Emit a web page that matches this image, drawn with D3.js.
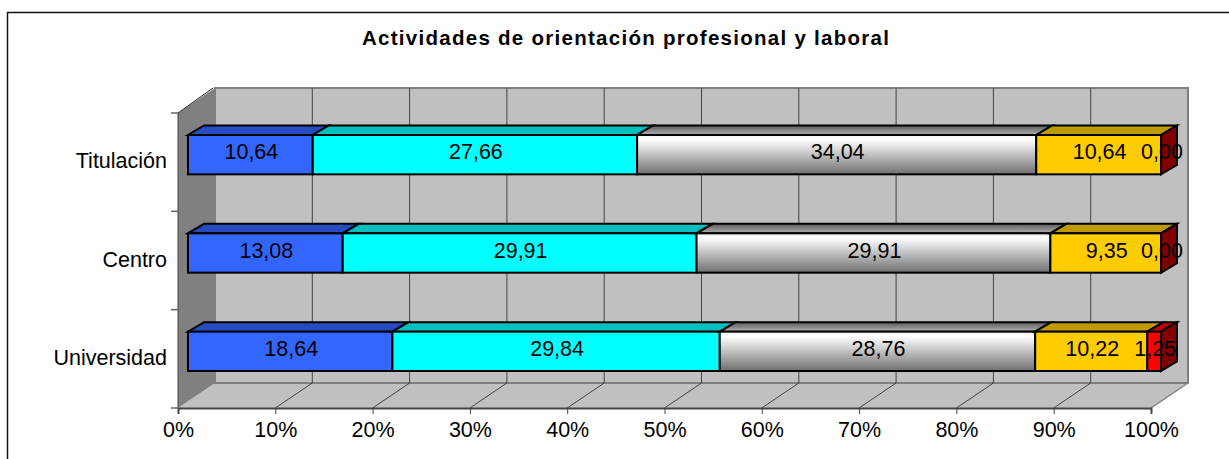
<!DOCTYPE html>
<html>
<head>
<meta charset="utf-8">
<script src="https://cdn.jsdelivr.net/npm/d3@7"></script>
<style>
  html, body { margin: 0; padding: 0; background: #fff; }
  svg { display: block; }
  text { font-family: "Liberation Sans", Arial, sans-serif; fill: #000; }
</style>
</head>
<body>
<svg id="chart" width="1229" height="459"></svg>
<script>
const categories = ["Universidad", "Centro", "Titulación"];
const serieA = [18.64, 13.08, 10.64];
const serieB = [29.84, 29.91, 27.66];
const serieC = [28.76, 29.91, 34.04];
const serieD = [10.22, 9.35, 10.64];
const serieE = [1.25, 0.00, 0.00];
const xTicks = [0, 0.1, 0.2, 0.3, 0.4, 0.5, 0.6, 0.7, 0.8, 0.9, 1];
const titleText = "Actividades de orientación profesional y laboral";

const allSeries = [serieA, serieB, serieC, serieD, serieE];
const keys = allSeries.map((_, i) => "s" + i);
const rows = categories.map((c, i) => {
    const row = { category: c };
    keys.forEach((k, j) => { row[k] = allSeries[j][i]; });
    return row;
});

// front, top and side faces for every series
const faceStyles = [
    { front: "#3366ff", top: "#264cbf" },
    { front: "#00ffff", top: "#00bfbf" },
    { front: "url(#silverFront)", top: "url(#silverTop)" },
    { front: "#ffcc00", top: "#bf9900" },
    { front: "#ff0000", top: "#bf0000", side: "#800000" }
];

const svg = d3.select("#chart");

// --- layout of the fake 3D box ---
const plot = { left: 178, right: 1151, top: 113, bottom: 408 };
const wall = { dx: 37, dy: -25 };    // back wall offset from front plane
const bar = { dx: 10, dy: -7.5, depthX: 16, depthY: -9.5, heightRatio: 0.4 };
const labelSize = 21.5;

const x = d3.scaleLinear().domain([0, 1]).range([plot.left, plot.right]);
const y = d3.scaleBand().domain(categories).range([plot.bottom, plot.top]);

const stacked = d3.stack().keys(keys).offset(d3.stackOffsetExpand)(rows);
const poly = pts => pts.map(p => p.join(",")).join(" ");
const commaFmt = v => d3.format(".2f")(v).replace(".", ",");

// gradients for the silver series
const defs = svg.append("defs");
function addGradient(id, stops) {
    const g = defs.append("linearGradient").attr("id", id)
        .attr("x1", 0).attr("y1", 0).attr("x2", 0).attr("y2", 1);
    stops.forEach(s => g.append("stop").attr("offset", s[0]).attr("stop-color", s[1]));
}
addGradient("silverFront", [[0, "#f4f4f4"], [0.12, "#ffffff"], [1, "#6f6f6f"]]);
addGradient("silverTop", [[0, "#5a5a5a"], [1, "#b0b0b0"]]);

// outer frame, only the top and left edges are inside the crop
svg.append("path").attr("d", "M7.5,459V12.5H1229")
    .attr("fill", "none").attr("stroke", "#111").attr("stroke-width", 1.5);

svg.append("text").attr("x", 625.5).attr("y", 45)
    .attr("text-anchor", "middle")
    .attr("font-size", 20.5).attr("font-weight", "bold")
    .attr("textLength", 527).attr("lengthAdjust", "spacing")
    .text(titleText);

// --- walls ---
const walls = svg.append("g");
walls.append("polygon")
    .attr("points", poly([[plot.left, plot.bottom], [plot.right, plot.bottom],
        [plot.right + wall.dx, plot.bottom + wall.dy], [plot.left + wall.dx, plot.bottom + wall.dy]]))
    .attr("fill", "#c0c0c0");
walls.append("rect")
    .attr("x", plot.left + wall.dx).attr("y", plot.top + wall.dy)
    .attr("width", plot.right - plot.left).attr("height", plot.bottom - plot.top)
    .attr("fill", "#c0c0c0").attr("stroke", "#808080").attr("stroke-width", 2);
walls.append("polygon")
    .attr("points", poly([[plot.left, plot.top], [plot.left + wall.dx, plot.top + wall.dy],
        [plot.left + wall.dx, plot.bottom + wall.dy], [plot.left, plot.bottom]]))
    .attr("fill", "#808080");
walls.append("line")
    .attr("x1", plot.left).attr("y1", plot.top)
    .attr("x2", plot.left + wall.dx - 2).attr("y2", plot.top + wall.dy)
    .attr("stroke", "#222").attr("stroke-width", 1);
walls.append("line")
    .attr("x1", plot.left).attr("y1", plot.top)
    .attr("x2", plot.left).attr("y2", plot.bottom)
    .attr("stroke", "#444").attr("stroke-width", 1);
walls.append("line")
    .attr("x1", plot.right).attr("y1", plot.bottom)
    .attr("x2", plot.right + wall.dx).attr("y2", plot.bottom + wall.dy)
    .attr("stroke", "#808080").attr("stroke-width", 1.5);
walls.append("line")
    .attr("x1", plot.left + wall.dx).attr("y1", plot.bottom + wall.dy)
    .attr("x2", plot.right + wall.dx).attr("y2", plot.bottom + wall.dy)
    .attr("stroke", "#808080").attr("stroke-width", 2);

// gridlines: up the back wall and across the floor
const inner = xTicks.slice(1, -1);
walls.selectAll(".grid").data(inner).enter().append("line")
    .attr("class", "grid")
    .attr("x1", d => x(d) + wall.dx).attr("x2", d => x(d) + wall.dx)
    .attr("y1", plot.top + wall.dy).attr("y2", plot.bottom + wall.dy)
    .attr("stroke", "#444").attr("stroke-width", 1);
walls.selectAll(".floor").data(inner).enter().append("line")
    .attr("class", "floor")
    .attr("x1", d => x(d)).attr("x2", d => x(d) + wall.dx)
    .attr("y1", plot.bottom).attr("y2", plot.bottom + wall.dy)
    .attr("stroke", "#222").attr("stroke-width", 0.8);

// --- bars ---
const barH = y.bandwidth() * bar.heightRatio;
const barTop = c => y(c) + (y.bandwidth() - barH) / 2 + bar.dy;
const barX = v => x(v) + bar.dx;

const barsG = svg.append("g").attr("stroke", "#000").attr("stroke-width", 2).attr("stroke-linejoin", "miter");
categories.forEach((c, ci) => {
    const t = barTop(c);
    stacked.forEach((layer, si) => {
        const d = layer[ci];
        const x0 = barX(d[0]);
        const x1 = barX(d[1]);
        barsG.append("polygon")
            .attr("points", poly([[x0, t], [x1, t], [x1 + bar.depthX, t + bar.depthY], [x0 + bar.depthX, t + bar.depthY]]))
            .attr("fill", faceStyles[si].top);
        barsG.append("rect")
            .attr("x", x0).attr("y", t)
            .attr("width", x1 - x0).attr("height", barH)
            .attr("fill", faceStyles[si].front);
        if (si === stacked.length - 1) {
            barsG.append("polygon")
                .attr("points", poly([[x1, t], [x1 + bar.depthX, t + bar.depthY],
                    [x1 + bar.depthX, t + barH + bar.depthY], [x1, t + barH]]))
                .attr("fill", faceStyles[si].side);
        }
    });
});

// data labels on top of everything
const labels = svg.append("g").attr("font-size", labelSize).attr("text-anchor", "middle");
categories.forEach((c, ci) => {
    stacked.forEach((layer, si) => {
        const d = layer[ci];
        labels.append("text")
            .attr("x", (barX(d[0]) + barX(d[1])) / 2 + 1)
            .attr("y", barTop(c) + barH / 2 - 3)
            .attr("dy", "0.35em")
            .text(commaFmt(allSeries[si][ci]));
    });
});

// --- axes ---
const xAxis = d3.axisBottom(x).tickValues(xTicks).tickFormat(d3.format(".0%")).tickSize(6).tickPadding(8);
const xG = svg.append("g").attr("transform", `translate(0,${plot.bottom})`).call(xAxis);
xG.select(".domain").attr("stroke", "#444").attr("stroke-width", 2);
xG.selectAll(".tick line").attr("stroke", "#444");
xG.selectAll("text").attr("font-size", labelSize);
xG.attr("font-family", null);

const yAxis = d3.axisLeft(y).tickSize(0).tickPadding(11);
const yG = svg.append("g").attr("transform", `translate(${plot.left},0)`).call(yAxis);
yG.select(".domain").remove();
yG.selectAll("text").attr("font-size", labelSize).attr("dy", "0.28em");
yG.attr("font-family", null);

// y ticks sit between the categories
const yEdges = categories.map(c => y(c)).concat([plot.bottom]);
svg.append("g").selectAll("line").data(yEdges).enter().append("line")
    .attr("x1", plot.left - 7).attr("x2", plot.left)
    .attr("y1", d => d).attr("y2", d => d)
    .attr("stroke", "#666").attr("stroke-width", 1.5);
</script>
</body>
</html>
